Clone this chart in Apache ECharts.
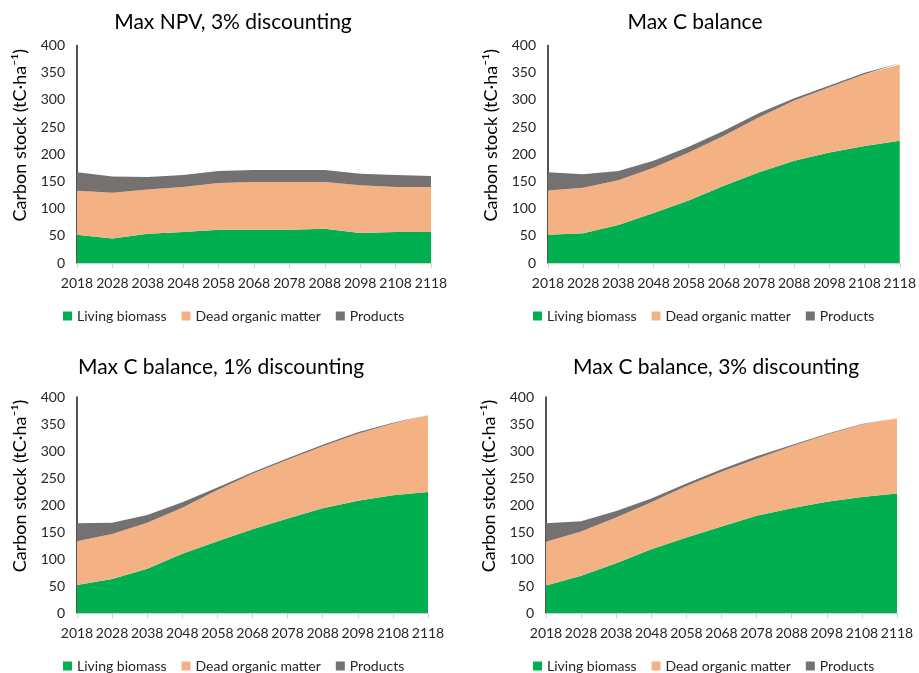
<!DOCTYPE html>
<html>
<head>
<meta charset="utf-8">
<script src="https://cdn.jsdelivr.net/npm/echarts@6/dist/echarts.min.js"></script>
<style>html,body{margin:0;padding:0;background:#fff}#c{width:919px;height:673px}</style>
</head>
<body>
<div id="c"></div>
<script>
const years = ['2018','2028','2038','2048','2058','2068','2078','2088','2098','2108','2118'];
const seriesNames = ['Living biomass','Dead organic matter','Products'];
const titles = ['Max NPV, 3% discounting','Max C balance','Max C balance, 1% discounting','Max C balance, 3% discounting'];
const yTicks = [0,50,100,150,200,250,300,350,400];

// Panel 1: Max NPV, 3% discounting
const npv3Living = [52,45,54,57,61,61,61,63,55,57,57];
const npv3Dead = [81,84,81,83,86,88,88,86,88,83,83];
const npv3Products = [34,30,23,22,22,22,22,22,21,22,20];
// Panel 2: Max C balance
const cbLiving = [52,54.5,70,92,115,142,167,188,203,215,225];
const cbDead = [81.5,84,82,83,88,92,101,111,120,132,140];
const cbProducts = [33.5,24.5,17,13,11,9,8,4,3.5,3,2.5];
// Panel 3: Max C balance, 1% discounting
const cb1Living = [52,63,82,109.5,133,155,175,194,208,218,224];
const cb1Dead = [81,83.5,85,85.5,95,103,109,115,124,133,142];
const cb1Products = [33,20.5,14.5,10,4.6,2.5,2.5,2.5,2.5,1.5,1.2];
// Panel 4: Max C balance, 3% discounting
const cb3Living = [51,69,92,118,140,160,180,194,206,215,221.5];
const cb3Dead = [81,82,85,87,95,101.5,105.5,115,124.5,134,138.5];
const cb3Products = [34,19,12,7,5,4.5,5,2,1.5,1,1];

const panelData = [
  [npv3Living, npv3Dead, npv3Products],
  [cbLiving, cbDead, cbProducts],
  [cb1Living, cb1Dead, cb1Products],
  [cb3Living, cb3Dead, cb3Products]
];

const colors = ['#00B050','#F4B183','#767171'];
const font = 'Lato, "Open Sans", sans-serif';

const grids = [
  {left:77, top:45.5, width:354, height:217.5},
  {left:548, top:45.5, width:353, height:217.5},
  {left:77, top:397, width:351, height:216},
  {left:546, top:397, width:351, height:216}
];
const titlePos = [[228,7],[690,7],[216,352],[711,352]];
const legendPos = [[58,304],[528,304],[58,654],[528,654]];

const option = {
  animation:false,
  color: colors,
  title: titles.map((t,i)=>({
    text:t, left:titlePos[i][0], top:titlePos[i][1], textAlign:'center',
    textStyle:{fontFamily:font, fontSize:21, fontWeight:'normal', color:'#000'}
  })),
  legend: legendPos.map((p,i)=>({
    data:seriesNames.map(n=>({name:n+'#'+i})),
    left:p[0], top:p[1], itemWidth:9, itemHeight:9, itemGap:15, icon:'rect',
    formatter: n=>n.split('#')[0],
    textStyle:{fontFamily:font, fontSize:14, color:'#262626'}
  })),
  grid: grids,
  xAxis: grids.map((g,i)=>({
    type:'category', gridIndex:i, data:years, boundaryGap:false,
    axisLine:{lineStyle:{color:'#d0d0d0', width:1}},
    axisTick:{show:true, length:5, lineStyle:{color:'#d0d0d0'}},
    axisLabel:{fontFamily:font, fontSize:14, color:'#262626', margin:13, interval:0}
  })),
  yAxis: grids.map((g,i)=>({
    type:'value', gridIndex:i, min:yTicks[0], max:yTicks[yTicks.length-1], interval:50,
    name:'Carbon stock (tC·ha⁻¹)', nameLocation:'middle', nameGap:48,
    nameTextStyle:{fontFamily:font, fontSize:18, color:'#000', padding:[0,0,0,38]},
    axisLine:{show:true, lineStyle:{color:'#1a1a1a', width:1.5}},
    axisTick:{show:false},
    splitLine:{show:false},
    axisLabel:{fontFamily:font, fontSize:14, color:'#262626', margin:12}
  })),
  series: []
};
panelData.forEach((arrs,i)=>{
  arrs.forEach((d,k)=>{
    option.series.push({
      name: seriesNames[k]+'#'+i, type:'line', stack:'s'+i,
      xAxisIndex:i, yAxisIndex:i, data:d, symbol:'none',
      lineStyle:{width:0}, areaStyle:{color:colors[k], opacity:1},
      itemStyle:{color:colors[k]}
    });
  });
});
echarts.init(document.getElementById('c')).setOption(option);
</script>
</body>
</html>
